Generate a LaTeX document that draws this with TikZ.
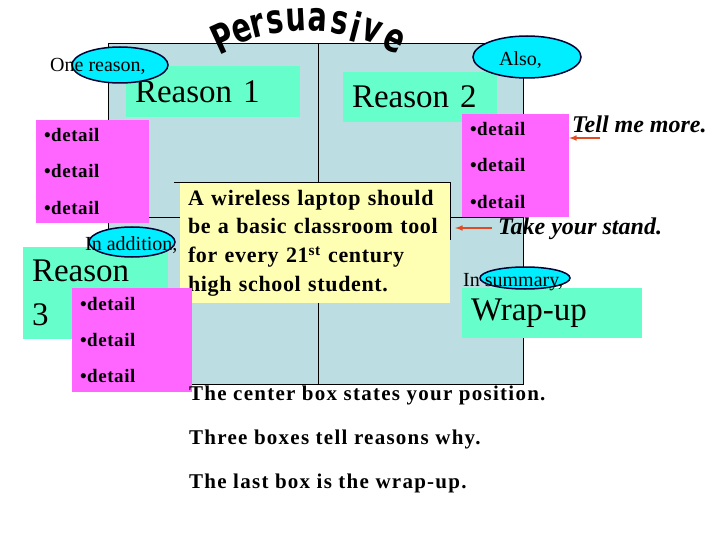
\documentclass[tikz,border=0pt]{standalone}
\usepackage{fontspec}
\setmainfont{Liberation Serif}
\newfontfamily\titlefont{DejaVu Sans}
\newfontfamily\widefont[LetterSpace=3]{Liberation Serif}
\newfontfamily\widerfont[LetterSpace=6]{Liberation Serif}
\usetikzlibrary{shapes.geometric}

\definecolor{panelblue}{RGB}{188,222,226}
\definecolor{reasongreen}{RGB}{102,255,204}
\definecolor{detailpink}{RGB}{255,102,255}
\definecolor{claimyellow}{RGB}{255,255,180}
\definecolor{tagcyan}{RGB}{0,238,255}
\definecolor{tagline}{RGB}{0,0,51}
\definecolor{pointred}{RGB}{225,75,35}

\begin{document}
\begin{tikzpicture}[x=1pt,y=-1pt,
  reasonbox/.style={fill=reasongreen, inner xsep=9pt, inner ysep=0pt, align=left,
    font=\fontsize{33}{44}\selectfont},
  detailbox/.style={fill=detailpink, inner xsep=8pt, inner ysep=0pt, align=left,
    font=\widefont\bfseries\fontsize{19}{36.5}\selectfont},
  tag/.style={ellipse, fill=tagcyan, draw=tagline, line width=1.5pt, inner sep=0pt},
  tagtext/.style={anchor=base west, inner sep=0pt, font=\fontsize{20}{24}\selectfont},
  remark/.style={anchor=base west, inner sep=0pt, font=\bfseries\itshape\fontsize{24}{26}\selectfont},
  note/.style={anchor=base west, inner sep=0pt, font=\widerfont\bfseries\fontsize{21}{22}\selectfont},
  pointer/.style={-latex, draw=pointred, line width=1.5pt},
  titlechar/.style={inner sep=0pt, font=\titlefont\bfseries\fontsize{30}{30}\selectfont}]

\useasboundingbox (0,0) rectangle (720,540);

% four-square panel
\draw[fill=panelblue, line width=0.8pt] (108,43) rectangle (523,384);
\draw[line width=0.8pt] (318,43) -- (318,384);
\draw[line width=0.8pt] (108,217) -- (523,217);

% arched title
\foreach \ch/\t [count=\i] in {P/-24.5,e/-18.7,r/-13.9,s/-8.9,u/-2.9,a/3.4,s/9.8,i/14.5,v/19.3,e/26.1} {
  \node[titlechar, rotate=-\t] (title\i) at ({306+200*sin(\t)},{220-200*cos(\t)}) {\scalebox{0.95}[1.35]{\ch}};
}

% reason boxes
\node[reasonbox, text width=156pt, minimum height=51pt] (reason1) at (213,91.5) {Reason 1};
\node[reasonbox, text width=136pt, minimum height=50pt] (reason2) at (420,97) {Reason 2};
\node[reasonbox, text width=127pt, minimum height=92pt] (reason3) at (95.5,293) {Reason\\3};
\node[reasonbox, text width=162pt, minimum height=50pt] (wrapup) at (552,313) {Wrap-up};

% transition tags
\node[tag, minimum width=96pt, minimum height=36pt] (oneTag) at (120,65) {};
\node[tagtext] (oneText) at (50,72) {One reason,};
\node[tag, minimum width=108pt, minimum height=42pt] (alsoTag) at (527,57) {};
\node[tagtext] (alsoText) at (499,66) {Also,};
\node[tag, minimum width=86pt, minimum height=30pt] (additionTag) at (132,242) {};
\node[tagtext] (additionText) at (85,250) {In addition,};
\node[tag, minimum width=90pt, minimum height=22pt] (summaryTag) at (525,278) {};
\node[tagtext] (summaryText) at (463,286) {In summary,};

\node[remark] (stand) at (498,234) {Take your stand.};

% detail boxes
\node[detailbox, text width=97pt, minimum height=103pt] (det1) at (92.5,171.5) {•detail\\•detail\\•detail};
\node[detailbox, text width=91pt, minimum height=103pt] (det2) at (515.5,165.5) {•detail\\•detail\\•detail};

% position statement
\node[fill=claimyellow, inner xsep=8pt, inner ysep=0pt, text width=254pt, minimum height=120pt, align=left,
  font=\widefont\bfseries\fontsize{22}{28.7}\selectfont] (claim) at (315,243)
  {A wireless laptop should\\be a basic classroom tool\\for every 21\textsuperscript{st} century\\high school student.};
\draw[line width=0.6pt] ([xshift=-6pt]claim.north west) -- (claim.north east) -- ([yshift=-57pt]claim.north east);

\node[detailbox, text width=104pt, minimum height=104pt] (det3) at (132,340) {•detail\\•detail\\•detail};

\node[remark] (tellme) at (572,133) {Tell me more.};

% pointers
\coordinate (tellTail) at (600,138);
\draw[pointer] (tellTail) -- (tellTail -| det2.east);
\coordinate (standTail) at (492,228);
\draw[pointer, shorten >=5pt] (standTail) -- (standTail -| claim.east);

% notes below
\node[note] (note1) at (189,400) {The center box states your position.};
\node[note] (note2) at (189,444) {Three boxes tell reasons why.};
\node[note] (note3) at (189,488) {The last box is the wrap-up.};

\end{tikzpicture}
\end{document}
